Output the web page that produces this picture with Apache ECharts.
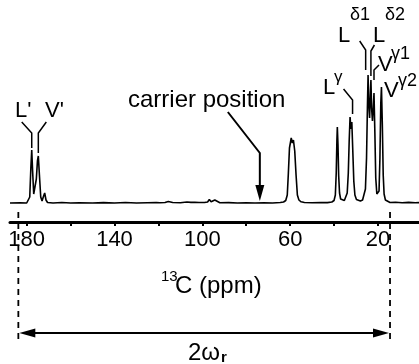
<!DOCTYPE html>
<html>
<head>
<meta charset="utf-8">
<script src="https://cdn.jsdelivr.net/npm/echarts@6/dist/echarts.min.js"></script>
<style>
  html, body { margin: 0; padding: 0; background: #fff; }
  #chart { width: 419px; height: 364px; }
</style>
</head>
<body>
<div id="chart"></div>
<script>
// 13C spectrum trace (ppm, intensity)
const tracePpm = [
  187.6, 183.0, 180.0, 179.2, 178.6, 178.1, 177.7, 177.3, 176.8, 176.3, 175.6, 175.1, 174.7, 174.2, 173.6,
  173.0, 172.3, 171.8, 171.2, 170.5, 168, 164, 160, 156, 150, 145, 140, 135, 130, 125, 121, 120.1, 119.3,
  117, 115.5, 114.7, 113.5, 110, 107, 106.2, 105.2, 104.4, 103.4, 102.5, 101.5, 99, 97.6, 96.8, 96.0, 95.2,
  94.3, 93.4, 92, 88, 84, 80, 76, 72, 68, 64.5, 63, 62, 61.3, 60.8, 60.3, 59.5, 59.0, 58.5, 57.9, 57.3,
  56.7, 56.0, 55.0, 53.5, 50, 46, 43, 41, 40.0, 39.4, 39.0, 38.7, 38.5, 38.2, 37.9, 37.5, 37.0, 36.3,
  35.3, 34.5, 34.0, 33.5, 33.1, 32.7, 32.3, 31.9, 31.5, 31.0, 30.5, 29.8, 29.0, 28.0, 27.0, 26.3, 25.7,
  25.2, 24.8, 24.5, 24.2, 23.8, 23.4, 23.2, 22.9, 22.5, 22.1, 21.8, 21.4, 21.0, 20.5, 20.0, 19.5, 19.1,
  18.7, 18.4, 18.0, 17.6, 17.2, 16.6, 15.8, 14.5, 12, 9, 6, 3, 1.3
];
const traceInt = [
  0, 0.3, 0, 0.5, 6, 35, 53, 32, 9, 7, 24, 42, 47, 28, 6,
  2, 7, 10, 3, 0.5, 0, 0.5, 0, 0.3, 0, 0.4, 0, 0.5, 0, 0.3, 0.5, 2, 0.3,
  0.5, 1.5, 2.2, 0.5, 0.3, 1, 1.8, 0.6, 1.5, 0.8, 1.8, 0.5, 0.5, 1, 3.5, 1.2, 2.5,
  3, 1, 0.3, 0.4, 0, 0.3, 0, 0.2, 0, 0.5, 1, 2.5, 8, 30, 55, 65, 60, 63, 52, 28,
  8, 3, 1.2, 0.5, 0.2, 0.5, 0.4, 1, 2.5, 8, 30, 62, 76, 58, 28, 10, 4, 2,
  2.5, 4, 10, 30, 62, 86, 74, 81, 55, 22, 8, 3.5, 2, 2, 3, 5, 14,
  45, 95, 128, 100, 85, 112, 123, 95, 82, 96, 110, 70, 25, 9, 7, 12, 45,
  100, 116, 78, 28, 9, 3, 1.5, 0.5, 0.8, 0.2, 0.6, 0.2, 0.4
];

const tickPpm = [20, 40, 60, 80, 100, 120, 140, 160, 180];
const labelPpm = [20, 60, 100, 140, 180];

const peakNames = ["L'", "V'", 'L', 'L', 'L', 'V', 'V'];
const peakSups = ['', '', 'γ', 'δ1', 'δ2', 'γ1', 'γ2'];
const peakPpm = [177.7, 174.7, 32.7, 24.5, 23.2, 21.8, 18.4];

const carrierPpm = 73.8;
const carrierText = 'carrier position';
const spanPpm = [183.8, 14.5];
const axisTitle = ['13', 'C (ppm)'];
const spanTitle = ['2ω', 'r'];

const FONT = '"Liberation Sans", Arial, Helvetica, sans-serif';
const INK = '#000';

const chart = echarts.init(document.getElementById('chart'));

chart.setOption({
  backgroundColor: '#fff',
  animation: false,
  grid: { left: 10, right: 0, top: 3, bottom: 142 },
  xAxis: {
    type: 'value',
    inverse: true,
    min: 1.3,
    max: 187.6,
    position: 'bottom',
    axisLine: { onZero: false, lineStyle: { color: INK, width: 3 } },
    axisTick: { customValues: tickPpm, length: 4, lineStyle: { color: INK, width: 2 } },
    axisLabel: { customValues: labelPpm, margin: 7, fontSize: 22, color: INK, fontFamily: FONT },
    splitLine: { show: false }
  },
  yAxis: { type: 'value', min: -19, max: 200, show: false },
  series: [{
    type: 'line',
    data: tracePpm.map((p, i) => [p, traceInt[i]]),
    showSymbol: false,
    lineStyle: { color: INK, width: 1.6 },
    z: 2
  }]
});

const toPx = (p, v) => chart.convertToPixel({ seriesIndex: 0 }, [p, v]);

function text(str, x, y, size, extra) {
  return {
    type: 'text', x: x, y: y, silent: true,
    style: Object.assign({
      text: str, fill: INK, fontSize: size, fontFamily: FONT,
      align: 'left', verticalAlign: 'middle', textAlign: 'left', textVerticalAlign: 'middle'
    }, extra || {})
  };
}
function line(points, extra) {
  return {
    type: 'polyline', silent: true, shape: { points: points },
    style: Object.assign({ stroke: INK, lineWidth: 1.5, fill: null }, extra || {})
  };
}
function tri(points) {
  return { type: 'polygon', silent: true, shape: { points: points }, style: { fill: INK } };
}

// leader layout in pixels: [dx, yLow, yBend, endDx, yEnd]
const leaderLayout = [
  [0, 148, 133, -10, 122],
  [0, 153, 133, 8, 122],
  [2.5, 114, 100, -9, 89],
  [-2.4, 70, 50, -6, 41],
  [0, 76, 51, 3.5, 45],
  [0, 80, 70, 5, 65],
  null
];
// label layout in pixels: [mainX, mainY, supX, supY, supSize]
const labelLayout = [
  [15, 111, 0, 0, 0],
  [45, 111, 0, 0, 0],
  [323, 88, 334, 77, 17],
  [338, 36, 350, 15, 18],
  [373, 36, 385, 15, 18],
  [378, 65, 391, 54, 18],
  [384, 91, 398, 81, 18]
];

const g = [];

peakPpm.forEach((p, i) => {
  const lay = leaderLayout[i];
  if (lay) {
    const x = toPx(p, 0)[0] + lay[0];
    g.push(line([[x, lay[1]], [x, lay[2]], [x + lay[3], lay[4]]]));
  }
  const lab = labelLayout[i];
  g.push(text(peakNames[i], lab[0], lab[1], 22));
  if (peakSups[i]) g.push(text(peakSups[i], lab[2], lab[3], lab[4]));
});

// carrier position arrow
const tip = toPx(carrierPpm, 2);
g.push(text(carrierText, 128, 100, 24));
g.push(line([[tip[0] - 32, 112], [tip[0], 153], [tip[0], tip[1] - 12]], { lineWidth: 2 }));
g.push(tri([[tip[0] - 4.5, tip[1] - 16], [tip[0] + 4.5, tip[1] - 16], [tip[0], tip[1]]]));

// 2ωr span
const xa = toPx(spanPpm[0], 0)[0];
const xb = toPx(spanPpm[1], 0)[0];
g.push(line([[xa, 212], [xa, 342]], { lineDash: [6, 5], lineWidth: 1.8 }));
g.push(line([[xb, 212], [xb, 342]], { lineDash: [6, 5], lineWidth: 1.8 }));
g.push(line([[xa + 10, 333], [xb - 10, 333]], { lineWidth: 2 }));
g.push(tri([[xa + 1, 333], [xa + 17, 328.5], [xa + 17, 337.5]]));
g.push(tri([[xb - 1, 333], [xb - 17, 328.5], [xb - 17, 337.5]]));

// axis title and span title
g.push(text(axisTitle[0], 161, 277, 15));
g.push(text(axisTitle[1], 175, 286, 24));
g.push(text(spanTitle[0], 188, 353, 24));
g.push(text(spanTitle[1], 221, 358, 15, { fontWeight: 'bold' }));

chart.setOption({ graphic: g });
</script>
</body>
</html>
